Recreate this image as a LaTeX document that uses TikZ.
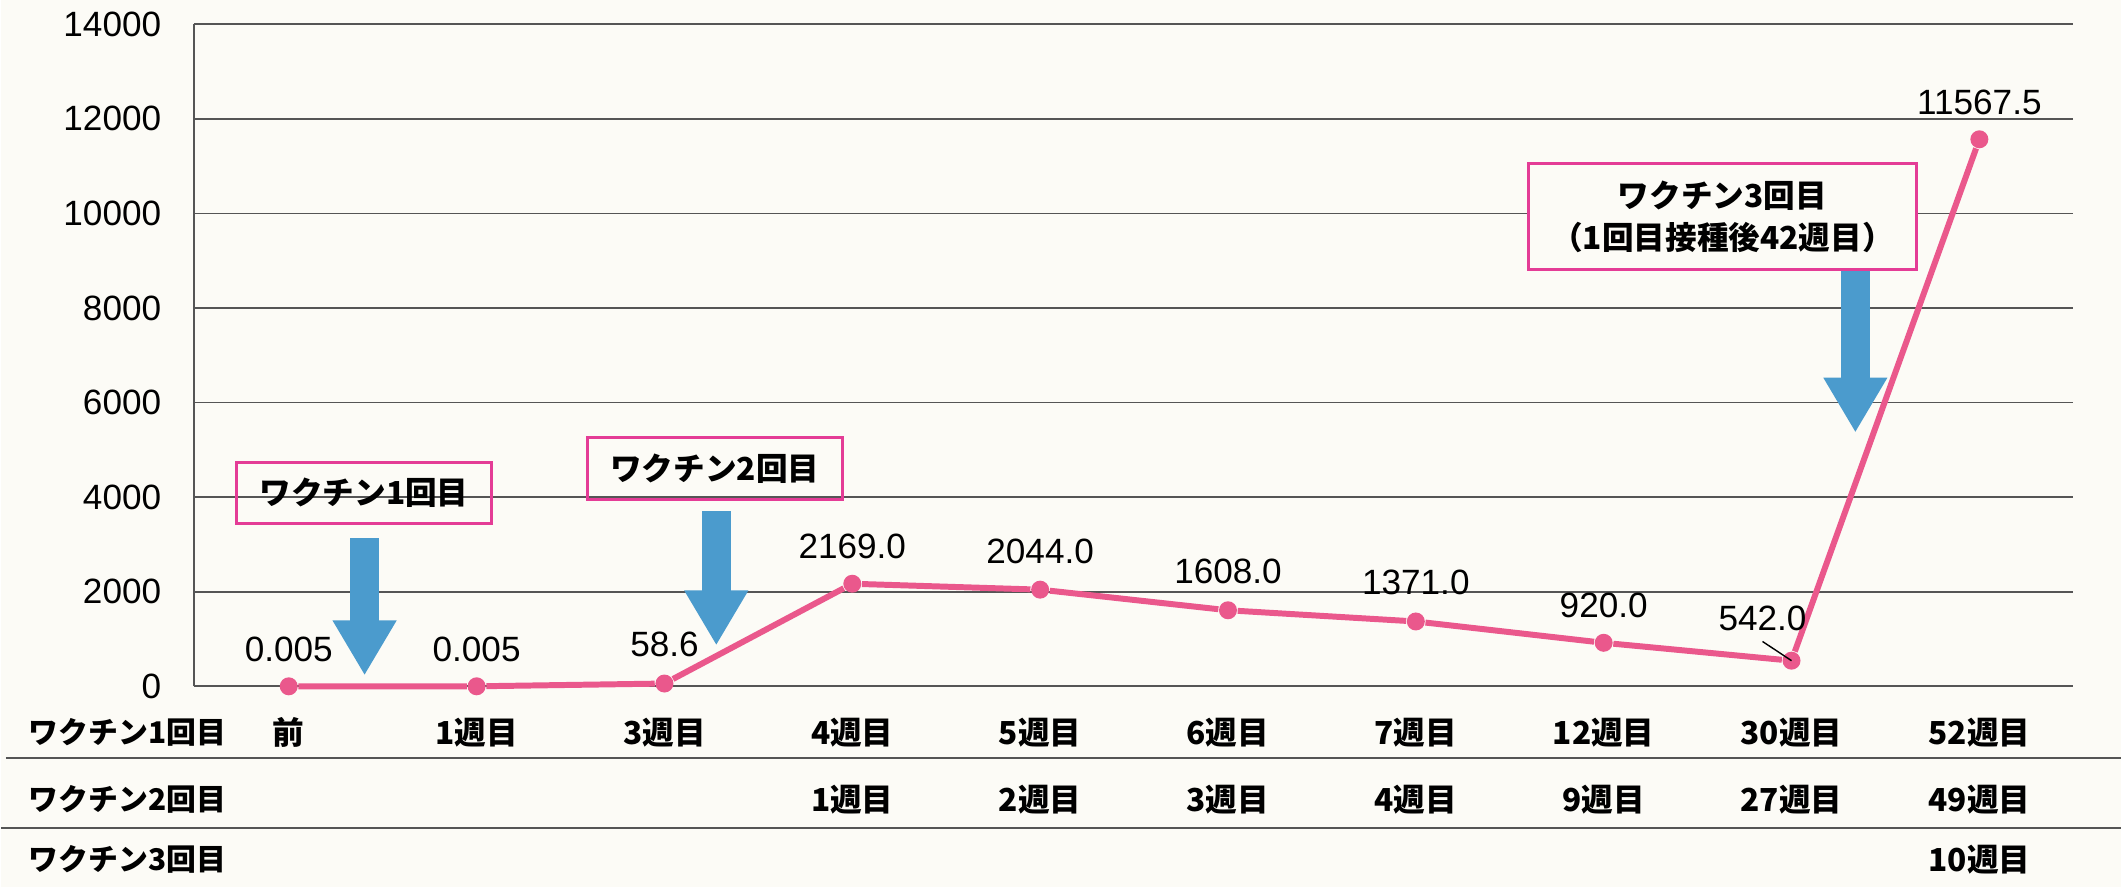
\documentclass[tikz,border=0pt]{standalone}
\usepackage{fontspec}
\setmainfont{Liberation Sans}
\newfontfamily\jp{Noto Sans CJK JP}
\usetikzlibrary{arrows.meta, positioning}

\definecolor{paper}{RGB}{252,251,246}
\definecolor{trendpink}{RGB}{234,88,140}
\definecolor{boxpink}{RGB}{228,60,150}
\definecolor{shotblue}{RGB}{75,155,205}
\definecolor{gridgray}{RGB}{85,85,85}

\begin{document}
\begin{tikzpicture}[x=0.01cm, y=0.01cm,
  grid/.style={draw=gridgray, line width=0.5pt},
  dot/.style={circle, fill=trendpink, inner sep=0pt, minimum size=0.18cm},
  trend/.style={draw=trendpink, line width=1.7pt},
  val/.style={font=\fontsize{10pt}{12pt}\selectfont, inner sep=0pt},
  tick/.style={font=\fontsize{10pt}{12pt}\selectfont, inner sep=0pt, anchor=east},
  week/.style={font=\jp\bfseries\fontsize{9pt}{11pt}\selectfont, inner sep=0pt},
  rowlab/.style={font=\jp\bfseries\fontsize{8.5pt}{10pt}\selectfont, inner sep=0pt, anchor=west},
  note/.style={draw=boxpink, line width=0.85pt, align=center, inner sep=0pt, font=\jp\bfseries\fontsize{9pt}{12.2pt}\selectfont},
  shot/.style={draw=shotblue, line width=0.29cm, -{Triangle[length=0.55cm, width=0.6cm]}},
  leader/.style={draw=black, line width=0.4pt}]

\fill[paper] (0,0) rectangle (2122,888);

% chart area: x in px from the axis, y in values
\begin{scope}[shift={(1.93cm,2.01cm)}, y=0.0004735cm]
\draw[grid] (0,0) -- (0,14000);
\draw[grid] (0,0) -- (1881,0);
\draw[grid] (0,2000) -- (1881,2000);
\draw[grid] (0,4000) -- (1881,4000);
\draw[grid] (0,6000) -- (1881,6000);
\draw[grid] (0,8000) -- (1881,8000);
\draw[grid] (0,10000) -- (1881,10000);
\draw[grid] (0,12000) -- (1881,12000);
\draw[grid] (0,14000) -- (1881,14000);

\node[tick] (t0) at (-32,0) {0};
\node[tick] (t1) at (-32,2000) {2000};
\node[tick] (t2) at (-32,4000) {4000};
\node[tick] (t3) at (-32,6000) {6000};
\node[tick] (t4) at (-32,8000) {8000};
\node[tick] (t5) at (-32,10000) {10000};
\node[tick] (t6) at (-32,12000) {12000};
\node[tick] (t7) at (-32,14000) {14000};

\node[dot] (p0) at (95,0.005) {};
\node[dot] (p1) at (283,0.005) {};
\node[dot] (p2) at (471,58.6) {};
\node[dot] (p3) at (659,2169) {};
\node[dot] (p4) at (847,2044) {};
\node[dot] (p5) at (1035,1608) {};
\node[dot] (p6) at (1223,1371) {};
\node[dot] (p7) at (1411,920) {};
\node[dot] (p8) at (1599,542) {};
\node[dot] (p9) at (1787,11567.5) {};
\end{scope}

% vaccination notes
\node[note, minimum width=2.55cm, minimum height=0.61cm] (b1) at (363.5,394.5) {ワクチン1回目};
\node[note, minimum width=2.55cm, minimum height=0.62cm] (b2) at (714.5,419) {ワクチン2回目};
\node[note, fill=paper, minimum width=3.88cm, minimum height=1.06cm] (b3) at (1723,671) {ワクチン3回目\\（1回目接種後42週目）};

\coordinate (a1) at (364,212);
\coordinate (a2) at (716,242);
\coordinate (a3) at (1856,455);

\draw[shot, shorten <=0.13cm] (b1.south -| a1) -- (a1);
\draw[shot, shorten <=0.1cm] (b2.south -| a2) -- (a2);
\draw[shot] (b3.south -| a3) -- (a3);

\draw[trend] (p0) -- (p1) -- (p2) -- (p3) -- (p4) -- (p5) -- (p6) -- (p7) -- (p8) -- (p9);

\node[val, above=0.145cm of p0] (v0) {0.005};
\node[val, above=0.145cm of p1] (v1) {0.005};
\node[val, above=0.16cm of p2] (v2) {58.6};
\node[val, above=0.14cm of p3] (v3) {2169.0};
\node[val, above=0.15cm of p4] (v4) {2044.0};
\node[val, above=0.16cm of p5] (v5) {1608.0};
\node[val, above=0.16cm of p6] (v6) {1371.0};
\node[val, above=0.15cm of p7] (v7) {920.0};
\node[val, above=0.195cm of p8, xshift=-0.29cm] (v8) {542.0};
\node[val, above=0.14cm of p9] (v9) {11567.5};
\draw[leader] ([yshift=-0.1cm]v8.south) -- (p8.center);

% table under the chart
\draw[grid] (5,129) -- (2122,129);
\draw[grid] (0,59) -- (2122,59);

\node[rowlab] (r1) at (27,155) {ワクチン1回目};
\node[rowlab] (r2) at (27,88) {ワクチン2回目};
\node[rowlab] (r3) at (27,28) {ワクチン3回目};

\node[week] (w0) at (p0 |- r1) {前};
\node[week] (w1) at (p1 |- r1) {1週目};
\node[week] (w2) at (p2 |- r1) {3週目};
\node[week] (w3) at (p3 |- r1) {4週目};
\node[week] (w4) at (p4 |- r1) {5週目};
\node[week] (w5) at (p5 |- r1) {6週目};
\node[week] (w6) at (p6 |- r1) {7週目};
\node[week] (w7) at (p7 |- r1) {12週目};
\node[week] (w8) at (p8 |- r1) {30週目};
\node[week] (w9) at (p9 |- r1) {52週目};

\node[week] (u3) at (p3 |- r2) {1週目};
\node[week] (u4) at (p4 |- r2) {2週目};
\node[week] (u5) at (p5 |- r2) {3週目};
\node[week] (u6) at (p6 |- r2) {4週目};
\node[week] (u7) at (p7 |- r2) {9週目};
\node[week] (u8) at (p8 |- r2) {27週目};
\node[week] (u9) at (p9 |- r2) {49週目};

\node[week] (s9) at (p9 |- r3) {10週目};
\end{tikzpicture}
\end{document}
